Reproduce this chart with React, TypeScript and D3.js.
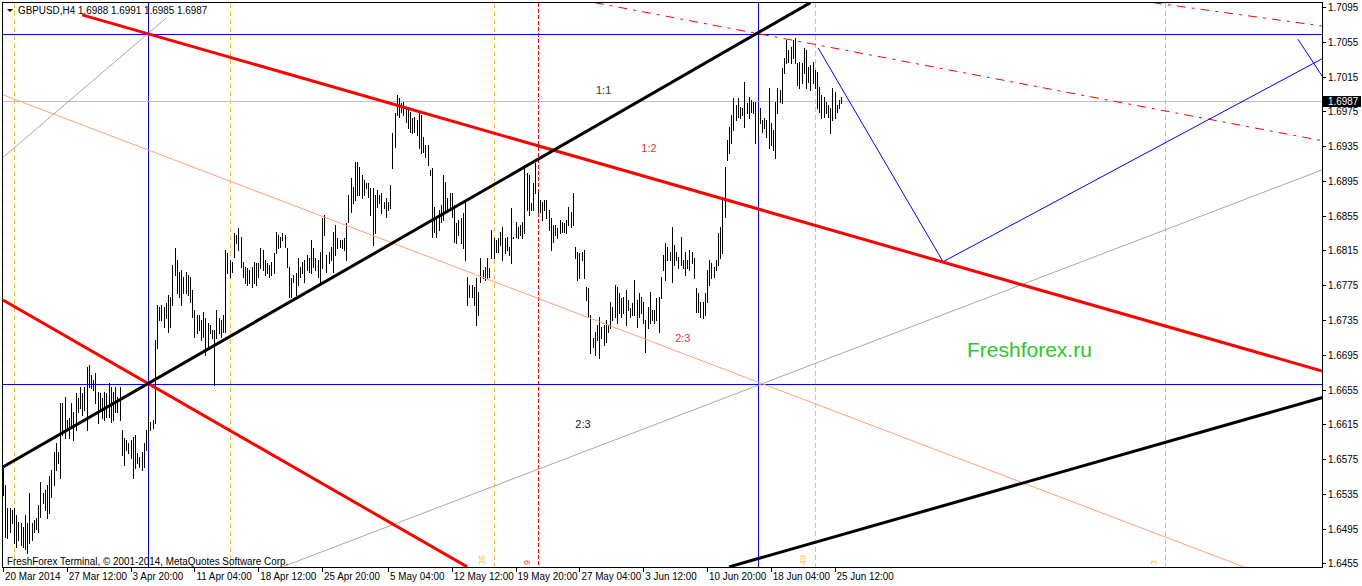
import React from 'react';
import * as d3 from 'd3';

// GBPUSD H4 bars (high / low per bar)
const highs = [
  1.6565, 1.6545, 1.6519, 1.6519, 1.6516, 1.6519, 1.6511, 1.6503, 1.6502, 1.6497,
  1.6511, 1.6502, 1.6536, 1.6502, 1.6505, 1.6507, 1.6522, 1.6549, 1.6536, 1.6539,
  1.6545, 1.6555, 1.6563, 1.6583, 1.6594, 1.6583, 1.6640, 1.6640, 1.6646, 1.6620,
  1.6622, 1.6640, 1.6629, 1.6651, 1.6645, 1.6658, 1.6651, 1.6658, 1.6681, 1.6683,
  1.6672, 1.6666, 1.6674, 1.6652, 1.6651, 1.6645, 1.6652, 1.6651, 1.6662, 1.6658,
  1.6652, 1.6658, 1.6646, 1.6658, 1.6608, 1.6599, 1.6597, 1.6594, 1.6597, 1.6600,
  1.6603, 1.6582, 1.6577, 1.6583, 1.6594, 1.6608, 1.6623, 1.6618, 1.6620, 1.6712,
  1.6752, 1.6750, 1.6752, 1.6750, 1.6755, 1.6764, 1.6761, 1.6798, 1.6818, 1.6804,
  1.6790, 1.6792, 1.6784, 1.6790, 1.6787, 1.6784, 1.6770, 1.6746, 1.6741, 1.6741,
  1.6735, 1.6744, 1.6737, 1.6732, 1.6729, 1.6724, 1.6724, 1.6746, 1.6737, 1.6735,
  1.6741, 1.6815, 1.6812, 1.6804, 1.6802, 1.6835, 1.6833, 1.6841, 1.6830, 1.6802,
  1.6796, 1.6795, 1.6792, 1.6796, 1.6802, 1.6801, 1.6801, 1.6818, 1.6815, 1.6804,
  1.6801, 1.6798, 1.6802, 1.6812, 1.6836, 1.6833, 1.6830, 1.6835, 1.6833, 1.6818,
  1.6796, 1.6783, 1.6787, 1.6789, 1.6806, 1.6796, 1.6802, 1.6804, 1.6810, 1.6806,
  1.6827, 1.6818, 1.6806, 1.6804, 1.6813, 1.6852, 1.6856, 1.6810, 1.6813, 1.6819,
  1.6836, 1.6844, 1.6829, 1.6827, 1.6827, 1.6829, 1.6847, 1.6879, 1.6898, 1.6888,
  1.6917, 1.6917, 1.6911, 1.6902, 1.6896, 1.6893, 1.6893, 1.6887, 1.6887, 1.6879,
  1.6885, 1.6879, 1.6881, 1.6871, 1.6875, 1.6871, 1.6890, 1.6950, 1.6973, 1.6994,
  1.6990, 1.6985, 1.6986, 1.6979, 1.6980, 1.6974, 1.6967, 1.6968, 1.6965, 1.6973,
  1.6971, 1.6945, 1.6936, 1.6936, 1.6908, 1.6910, 1.6865, 1.6853, 1.6862, 1.6867,
  1.6902, 1.6894, 1.6875, 1.6881, 1.6881, 1.6867, 1.6847, 1.6850, 1.6852, 1.6858,
  1.6873, 1.6784, 1.6775, 1.6775, 1.6773, 1.6783, 1.6767, 1.6806, 1.6792, 1.6796,
  1.6806, 1.6795, 1.6838, 1.6829, 1.6827, 1.6829, 1.6836, 1.6842, 1.6829, 1.6830,
  1.6819, 1.6864, 1.6830, 1.6848, 1.6842, 1.6844, 1.6848, 1.6913, 1.6904, 1.6902,
  1.6870, 1.6893, 1.6916, 1.6882, 1.6873, 1.6871, 1.6873, 1.6873, 1.6862, 1.6852,
  1.6844, 1.6844, 1.6841, 1.6850, 1.6848, 1.6847, 1.6850, 1.6865, 1.6859, 1.6881,
  1.6819, 1.6813, 1.6812, 1.6813, 1.6815, 1.6773, 1.6772, 1.6741, 1.6714, 1.6721,
  1.6729, 1.6738, 1.6727, 1.6729, 1.6735, 1.6729, 1.6756, 1.6750, 1.6775, 1.6773,
  1.6766, 1.6760, 1.6761, 1.6770, 1.6758, 1.6749, 1.6755, 1.6781, 1.6758, 1.6766,
  1.6761, 1.6756, 1.6735, 1.6750, 1.6767, 1.6746, 1.6746, 1.6760, 1.6761, 1.6784,
  1.6810, 1.6824, 1.6819, 1.6813, 1.6842, 1.6821, 1.6813, 1.6807, 1.6830, 1.6804,
  1.6813, 1.6804, 1.6815, 1.6813, 1.6806, 1.6772, 1.6766, 1.6756, 1.6756, 1.6766,
  1.6792, 1.6804, 1.6801, 1.6796, 1.6804, 1.6835, 1.6842, 1.6876, 1.6911, 1.6942,
  1.6957, 1.6971, 1.6990, 1.6982, 1.6990, 1.6980, 1.6979, 1.7009, 1.6985, 1.6991,
  1.6988, 1.6986, 1.6986, 1.6973, 1.6979, 1.6965, 1.6967, 1.6965, 1.7002, 1.6962,
  1.6953, 1.6986, 1.7002, 1.6999, 1.7025, 1.7036, 1.7057, 1.7046, 1.7049, 1.7057,
  1.7059, 1.7031, 1.7032, 1.7031, 1.7048, 1.7046, 1.7026, 1.7028, 1.7032, 1.7023,
  1.7020, 1.7003, 1.6994, 1.6991, 1.6986, 1.6982, 1.6979, 1.7002, 1.6997, 1.6982,
  1.6988, 1.6991,
];

const lows = [
  1.6534, 1.6485, 1.6484, 1.6491, 1.6502, 1.6479, 1.6474, 1.6482, 1.6476, 1.6474,
  1.6471, 1.6467, 1.6479, 1.6482, 1.6491, 1.6494, 1.6491, 1.6508, 1.6525, 1.6516,
  1.6507, 1.6513, 1.6531, 1.6545, 1.6563, 1.6571, 1.6553, 1.6603, 1.6599, 1.6608,
  1.6599, 1.6611, 1.6597, 1.6608, 1.6629, 1.6634, 1.6626, 1.6631, 1.6608, 1.6658,
  1.6657, 1.6655, 1.6640, 1.6617, 1.6631, 1.6622, 1.6620, 1.6623, 1.6623, 1.6618,
  1.6620, 1.6629, 1.6629, 1.6620, 1.6580, 1.6568, 1.6585, 1.6582, 1.6576, 1.6553,
  1.6565, 1.6571, 1.6566, 1.6563, 1.6566, 1.6585, 1.6599, 1.6608, 1.6611, 1.6617,
  1.6703, 1.6735, 1.6735, 1.6727, 1.6737, 1.6721, 1.6727, 1.6752, 1.6787, 1.6766,
  1.6761, 1.6752, 1.6766, 1.6766, 1.6764, 1.6756, 1.6738, 1.6715, 1.6720, 1.6724,
  1.6712, 1.6715, 1.6695, 1.6704, 1.6720, 1.6714, 1.6660, 1.6714, 1.6720, 1.6715,
  1.6721, 1.6721, 1.6789, 1.6784, 1.6790, 1.6807, 1.6824, 1.6815, 1.6796, 1.6784,
  1.6778, 1.6775, 1.6778, 1.6773, 1.6778, 1.6775, 1.6784, 1.6795, 1.6792, 1.6787,
  1.6789, 1.6784, 1.6787, 1.6789, 1.6812, 1.6818, 1.6819, 1.6827, 1.6819, 1.6796,
  1.6761, 1.6761, 1.6779, 1.6764, 1.6775, 1.6784, 1.6789, 1.6779, 1.6792, 1.6790,
  1.6789, 1.6796, 1.6792, 1.6784, 1.6779, 1.6795, 1.6833, 1.6790, 1.6801, 1.6804,
  1.6790, 1.6810, 1.6818, 1.6819, 1.6818, 1.6815, 1.6804, 1.6848, 1.6859, 1.6870,
  1.6873, 1.6879, 1.6879, 1.6875, 1.6879, 1.6887, 1.6876, 1.6856, 1.6821, 1.6835,
  1.6865, 1.6870, 1.6858, 1.6864, 1.6853, 1.6862, 1.6864, 1.6910, 1.6934, 1.6971,
  1.6968, 1.6974, 1.6971, 1.6963, 1.6956, 1.6951, 1.6950, 1.6951, 1.6948, 1.6933,
  1.6927, 1.6928, 1.6922, 1.6913, 1.6902, 1.6830, 1.6836, 1.6830, 1.6838, 1.6848,
  1.6850, 1.6858, 1.6859, 1.6864, 1.6853, 1.6825, 1.6824, 1.6833, 1.6824, 1.6818,
  1.6804, 1.6752, 1.6761, 1.6761, 1.6752, 1.6729, 1.6741, 1.6779, 1.6783, 1.6781,
  1.6783, 1.6784, 1.6806, 1.6806, 1.6813, 1.6813, 1.6821, 1.6804, 1.6812, 1.6815,
  1.6810, 1.6801, 1.6829, 1.6830, 1.6829, 1.6833, 1.6829, 1.6835, 1.6862, 1.6856,
  1.6862, 1.6862, 1.6881, 1.6859, 1.6859, 1.6850, 1.6862, 1.6852, 1.6838, 1.6815,
  1.6825, 1.6833, 1.6829, 1.6835, 1.6836, 1.6836, 1.6835, 1.6844, 1.6842, 1.6844,
  1.6806, 1.6781, 1.6783, 1.6804, 1.6783, 1.6758, 1.6738, 1.6697, 1.6704, 1.6695,
  1.6712, 1.6691, 1.6714, 1.6706, 1.6710, 1.6721, 1.6726, 1.6735, 1.6738, 1.6732,
  1.6743, 1.6738, 1.6743, 1.6729, 1.6746, 1.6738, 1.6741, 1.6741, 1.6727, 1.6738,
  1.6743, 1.6732, 1.6698, 1.6726, 1.6732, 1.6735, 1.6732, 1.6735, 1.6721, 1.6760,
  1.6792, 1.6781, 1.6804, 1.6804, 1.6779, 1.6798, 1.6804, 1.6795, 1.6798, 1.6795,
  1.6787, 1.6795, 1.6792, 1.6801, 1.6783, 1.6744, 1.6744, 1.6738, 1.6737, 1.6741,
  1.6756, 1.6775, 1.6783, 1.6784, 1.6792, 1.6798, 1.6806, 1.6812, 1.6853, 1.6919,
  1.6927, 1.6939, 1.6953, 1.6965, 1.6968, 1.6967, 1.6971, 1.6957, 1.6973, 1.6967,
  1.6974, 1.6973, 1.6939, 1.6948, 1.6962, 1.6951, 1.6956, 1.6945, 1.6933, 1.6936,
  1.6930, 1.6921, 1.6973, 1.6986, 1.6985, 1.7019, 1.7031, 1.7032, 1.7031, 1.7036,
  1.7031, 1.7005, 1.7002, 1.7008, 1.7019, 1.7002, 1.7009, 1.6999, 1.7008, 1.7002,
  1.6979, 1.6974, 1.6967, 1.6968, 1.6973, 1.6968, 1.6950, 1.6965, 1.6967, 1.6974,
  1.6979, 1.6985,
];

const header = 'GBPUSD,H4';
const lastQuote = ['1.6988', '1.6991', '1.6985', '1.6987'];
const lastPrice = 1.6987;

const priceTicks = [
  1.6455, 1.6495, 1.6535, 1.6575, 1.6615, 1.6655, 1.6695, 1.6735, 1.6775,
  1.6815, 1.6855, 1.6895, 1.6935, 1.6975, 1.7015, 1.7055, 1.7095,
];

const timeLabels = [
  '20 Mar 2014', '27 Mar 12:00', '3 Apr 20:00', '11 Apr 04:00', '18 Apr 12:00',
  '25 Apr 20:00', '5 May 04:00', '12 May 12:00', '19 May 20:00', '27 May 04:00',
  '3 Jun 12:00', '10 Jun 20:00', '18 Jun 04:00', '25 Jun 12:00',
];
const timeLabelBars = [0, 29, 58, 87, 116, 145, 175, 204, 233, 262, 291, 320, 349, 378];

// horizontal lines (price levels)
const blueLevels = [1.7064, 1.6661];

// vertical lines (bar positions)
const blueVerticals = [66, 343];
const redVerticals = [243];
const goldVerticals = [5, 103, 223, 369, 528];

// trend lines: [bar, price] anchors
const redThick = [[[36, 1.7086], [600, 1.6676]], [[0, 1.6758], [211, 1.6451]]];
const blackThick = [[[0, 1.6566], [367, 1.7100]], [[330, 1.6451], [600, 1.6646]]];
const salmonThin = [[[0, 1.6994], [565, 1.6450]]];
const grayThin = [[[0, 1.6922], [74.5, 1.7083]], [[127, 1.6451], [600, 1.6908]]];
const redDashDot = [[[269, 1.7100], [600, 1.6941]], [[522.7, 1.7100], [600, 1.7073]]];
const bluePath = [[[370.5, 1.7048], [427.3, 1.6802], [600, 1.7036]], [[588.6, 1.7058], [600, 1.7014]]];

const ratioLabels = [
  { text: '1:1', bar: 273, price: 1.7000, tone: 'dark' },
  { text: '1:2', bar: 293.6, price: 1.6933, tone: 'red' },
  { text: '2:3', bar: 309, price: 1.6714, tone: 'red' },
  { text: '2:3', bar: 263.6, price: 1.6615, tone: 'black' },
];

const fiboMarks = [
  { text: '36', bar: 219, tone: 'gold' },
  { text: '9', bar: 239.5, tone: 'red' },
  { text: '49', bar: 365, tone: 'gold' },
  { text: '3', bar: 524.5, tone: 'gold' },
];

const W = 1362;
const H = 586;
const plotLeft = 3;
const plotRight = 1322;
const plotTop = 3;
const plotBottom = 567;
const FONT = "'Liberation Sans', Arial, sans-serif";
const GOLD = '#f5c33b';
const SQUEEZE = 0.86; // terminal font is narrower than Liberation Sans
const toneColor: Record<string, string> = { dark: '#343a14', red: '#e8333a', black: '#202020', gold: GOLD };

// small narrow text like the terminal's UI font
const Label: React.FC<{ x: number; y: number; fill?: string; anchor?: string; size?: number; squeeze?: number; children: React.ReactNode }> =
  ({ x, y, fill = '#000', anchor = 'start', size = 11, squeeze = SQUEEZE, children }) => (
    <text transform={`translate(${x},${y}) scale(${squeeze},1)`} textAnchor={anchor} fontSize={size} fill={fill}>
      {children}
    </text>
  );

const App: React.FC = () => {
  const x = d3.scaleLinear().domain([0, 600]).range([3, 1323]);
  const y = d3.scaleLinear().domain([1.6455, 1.7095]).range([563.4, 7.0]);
  const line = d3.line<number[]>().x(d => x(d[0])).y(d => y(d[1]));
  const px = (v: number) => Math.round(v) + 0.5;

  const drawLines = (sets: number[][][], stroke: string, width: number, dash?: string) =>
    sets.map((pts, i) => (
      <path key={stroke + i} d={line(pts) || ''} fill="none" stroke={stroke} strokeWidth={width}
        strokeDasharray={dash} />
    ));

  return (
    <svg width={W} height={H} style={{ position: 'absolute', left: 0, top: 0, background: '#fff' }}
      fontFamily={FONT}>
      <defs>
        <clipPath id="plot">
          <rect x={plotLeft} y={plotTop} width={plotRight - plotLeft} height={plotBottom - plotTop} />
        </clipPath>
      </defs>
      <rect x={0} y={0} width={W} height={H} fill="#fff" />

      <g clipPath="url(#plot)">
        {/* vertical markers */}
        {goldVerticals.map(b => (
          <line key={'g' + b} x1={px(x(b))} x2={px(x(b))} y1={plotTop} y2={plotBottom}
            stroke={GOLD} strokeDasharray="5,3" />
        ))}
        {redVerticals.map(b => (
          <line key={'r' + b} x1={px(x(b))} x2={px(x(b))} y1={plotTop} y2={plotBottom}
            stroke="#ff0000" strokeDasharray="4,2" />
        ))}
        {blueVerticals.map(b => (
          <line key={'b' + b} x1={px(x(b))} x2={px(x(b))} y1={plotTop} y2={plotBottom} stroke="#0000ff" />
        ))}

        {/* horizontal levels */}
        <line x1={plotLeft} x2={plotRight} y1={px(y(lastPrice))} y2={px(y(lastPrice))} stroke="#c0c0c0" />
        {blueLevels.map(p => (
          <line key={'h' + p} x1={plotLeft} x2={plotRight} y1={px(y(p))} y2={px(y(p))} stroke="#0000ff" />
        ))}

        {/* bars */}
        <g stroke="#000" strokeWidth={1} shapeRendering="crispEdges">
          {highs.map((h, i) => (
            <line key={i} x1={px(x(i))} x2={px(x(i))} y1={Math.round(y(h))} y2={Math.round(y(lows[i])) + 1} />
          ))}
        </g>

        {/* trend lines */}
        {drawLines(grayThin, '#a8a8a8', 1)}
        {drawLines(salmonThin, '#ffa07a', 1)}
        {drawLines(redDashDot, '#ff0000', 1, '9,6,3,6')}
        {drawLines(bluePath, '#0000ff', 1)}
        {drawLines(redThick, '#ff0000', 3)}
        {drawLines(blackThick, '#000000', 3)}

        {/* ratio labels */}
        {ratioLabels.map((l, i) => (
          <Label key={'l' + i} x={x(l.bar)} y={y(l.price) + 4} anchor="middle" squeeze={1}
            fill={toneColor[l.tone]}>
            {l.text}
          </Label>
        ))}

        {fiboMarks.map((m, i) => (
          <text key={'f' + i} transform={`translate(${x(m.bar)},${plotBottom - 2}) rotate(-90)`}
            fontSize={9} fill={toneColor[m.tone]}>{m.text}</text>
        ))}

        <text x={967} y={357} fontSize={21} fill="#2ec62e">Freshforex.ru</text>
      </g>

      {/* frame */}
      <rect x={2.5} y={2.5} width={plotRight - 2} height={plotBottom - 2} fill="none" stroke="#000" />

      {/* header */}
      <path d="M7,9 L13,9 L10,12 Z" fill="#000" />
      <Label x={18} y={14} size={11.5}>{header}</Label>
      <Label x={78} y={14} size={11.5}>{lastQuote.join(' ')}</Label>

      <Label x={7} y={565} size={11.5}>FreshForex Terminal, © 2001-2014, MetaQuotes Software Corp.</Label>

      {/* price axis */}
      {priceTicks.map(p => (
        <g key={'t' + p}>
          <line x1={plotRight} x2={plotRight + 4} y1={px(y(p))} y2={px(y(p))} stroke="#000" />
          <Label x={1328} y={y(p) + 4} size={11.5}>{p.toFixed(4)}</Label>
        </g>
      ))}
      <rect x={1323} y={Math.round(y(lastPrice)) - 5} width={38} height={11} fill="#000" />
      <Label x={1328} y={y(lastPrice) + 4} size={11.5} fill="#fff">{lastPrice.toFixed(4)}</Label>

      {/* time axis */}
      {timeLabels.map((t, i) => (
        <g key={'x' + i}>
          <line x1={px(x(timeLabelBars[i]))} x2={px(x(timeLabelBars[i]))} y1={plotBottom} y2={plotBottom + 5}
            stroke="#000" />
          <Label x={x(timeLabelBars[i]) + 2} y={580} size={11.5}>{t}</Label>
        </g>
      ))}
    </svg>
  );
};

export default App;
